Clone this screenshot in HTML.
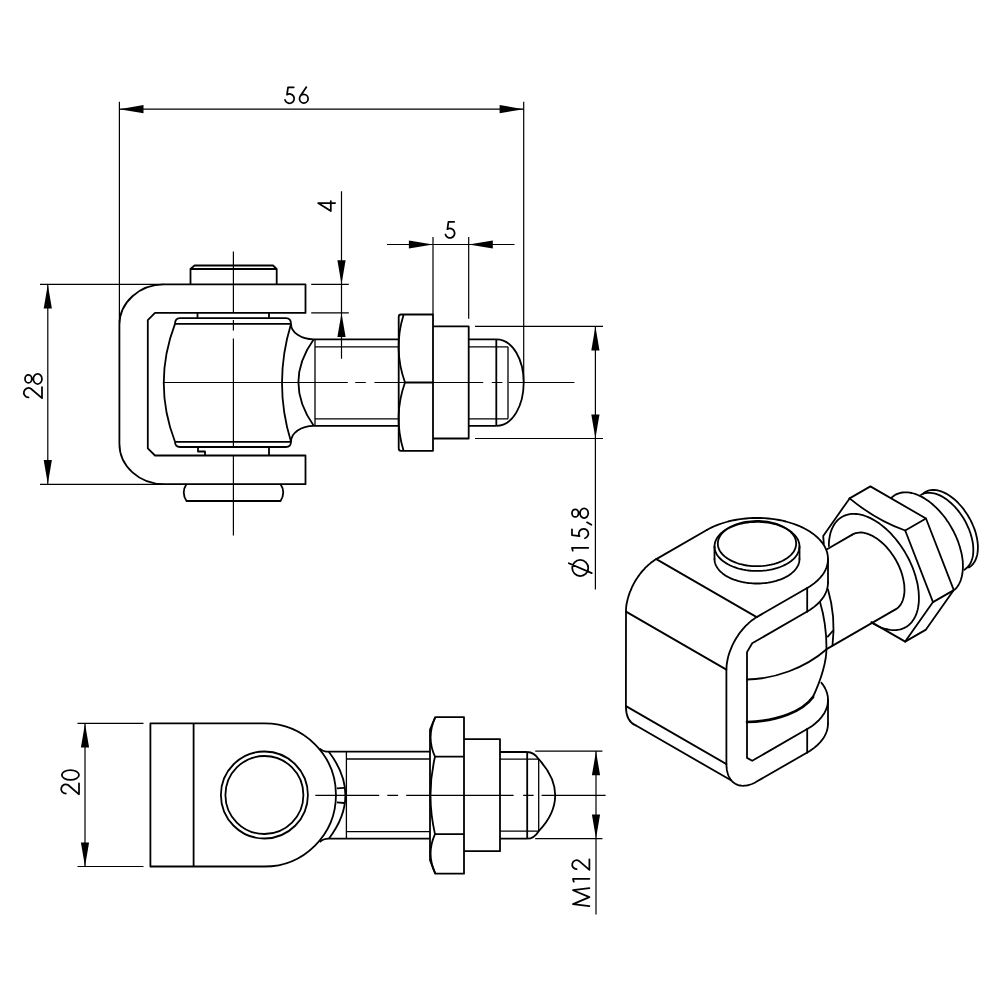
<!DOCTYPE html>
<html><head><meta charset="utf-8">
<style>
html,body{margin:0;padding:0;background:#fff;}
svg{display:block;}
text{font-family:"Liberation Sans",sans-serif;fill:#000;}
</style></head><body>
<svg width="1000" height="1000" viewBox="0 0 1000 1000">
<rect width="1000" height="1000" fill="#fff"/>
<!-- thin lines: dimensions, extension, center -->
<g fill="none" stroke="#000" stroke-width="1.2" id="thin">
  <!-- 56 -->
  <path d="M119.4 101.8V322 M523.7 101.8V382.5 M119.4 109.2H523.7"/>
  <!-- 28 -->
  <path d="M40 284.4H164 M40 484.45H164 M47.8 284.4V484"/>
  <!-- 4 -->
  <path d="M341.5 191.2V358.8 M311.2 284.4H348.8 M311.2 312.9H348.8"/>
  <!-- 5 -->
  <path d="M387 244.5H514.5 M433 237V314.5 M468.7 237V318.7"/>
  <!-- 15,8 -->
  <path d="M475 326.3H603 M475 438.5H603 M595.4 326.3V589.5"/>
  <!-- centerlines front -->
  <path d="M233.4 251.4V313 M233.4 320V330.5 M233.4 338.5V447 M233.4 455.5V535.5"/>
  <path d="M163.8 382.5H347.8 M355.2 382.5H365.8 M374.4 382.5H483.2 M491.8 382.5H502.4 M508.8 382.5H574.4"/>
  <!-- 20 -->
  <path d="M77.5 723.4H143.5 M77.5 866.5H143.5 M85 723.4V866.5"/>
  <!-- M12 -->
  <path d="M535.2 751.2H602.4 M535.2 838.6H602.4 M596 751.2V914.4"/>
  <path d="M315.3 795.3H379.2 M387.3 795.3H398.1 M406.2 795.3H513.6 M523.2 795.3H533.6 M541.6 795.3H605.6"/>
</g>
<!-- arrows -->
<g fill="#000" stroke="none">
  <path d="M119.4 109.2L143.5 105.1L143.5 113.3Z"/>
  <path d="M523.7 109.2L499.6 105.1L499.6 113.3Z"/>
  <path d="M47.8 284.4L43.7 308.5L51.9 308.5Z"/>
  <path d="M47.8 484L43.7 459.9L51.9 459.9Z"/>
  <path d="M341.5 284.4L337.4 260.3L345.6 260.3Z"/>
  <path d="M341.5 312.9L337.4 337L345.6 337Z"/>
  <path d="M433 244.5L408.9 240.4L408.9 248.6Z"/>
  <path d="M468.7 244.5L492.8 240.4L492.8 248.6Z"/>
  <path d="M595.4 326.3L591.3 350.4L599.5 350.4Z"/>
  <path d="M595.4 438.5L591.3 414.4L599.5 414.4Z"/>
  <path d="M85 723.4L80.9 747.5L89.1 747.5Z"/>
  <path d="M85 866.5L80.9 842.4L89.1 842.4Z"/>
  <path d="M596 751.2L591.9 775.3L600.1 775.3Z"/>
  <path d="M596 838.6L591.9 814.5L600.1 814.5Z"/>
</g>
<!-- text -->
<g fill="none" stroke="#000" stroke-width="1.75" stroke-linecap="round" stroke-linejoin="round">
  <path transform="translate(284.20 103.20) scale(0.935)" vector-effect="non-scaling-stroke" d="M10.2 -17H4.1L3.0 -9.1A5.0 5.0 0 1 1 0.9 -3.5"/>
  <path transform="translate(299.50 103.00) scale(0.935)" vector-effect="non-scaling-stroke" d="M7.4 -17L0.76 -7.14M9.2 -4.6A4.6 4.6 0 1 1 0 -4.6A4.6 4.6 0 1 1 9.2 -4.6"/>
  <path transform="translate(444.60 237.80) scale(0.940)" vector-effect="non-scaling-stroke" d="M10.2 -17H4.1L3.0 -9.1A5.0 5.0 0 1 1 0.9 -3.5"/>
  <path transform="translate(42.00 398.20) rotate(-90) scale(1.020)" vector-effect="non-scaling-stroke" d="M0.8 -13.2A4.6 4.6 0 1 1 9.3 -10.8L0 0H10.8"/>
  <path transform="translate(42.00 384.00) rotate(-90) scale(1.000)" vector-effect="non-scaling-stroke" d="M9.05 -13.6A4 3.4 0 1 1 1.05 -13.6A4 3.4 0 1 1 9.05 -13.6M10.1 -4.35A5.05 4.3 0 1 1 0 -4.35A5.05 4.3 0 1 1 10.1 -4.35"/>
  <path transform="translate(335.10 211.60) rotate(-90) scale(1.000)" vector-effect="non-scaling-stroke" d="M10.5 -4.3H0.5L8.6 -17V0"/>
  <path transform="translate(588.30 576.00) rotate(-90) scale(0.960)" vector-effect="non-scaling-stroke" d="M16.7 -8.4A8.35 8.35 0 1 1 0 -8.4A8.35 8.35 0 1 1 16.7 -8.4M2.95 3.6L13.25 -20.3"/>
  <path transform="translate(588.30 550.70) rotate(-90) scale(0.960)" vector-effect="non-scaling-stroke" d="M0 -16.2L3 -17V0"/>
  <path transform="translate(588.30 539.10) rotate(-90) scale(0.960)" vector-effect="non-scaling-stroke" d="M10.2 -17H4.1L3.0 -9.1A5.0 5.0 0 1 1 0.9 -3.5"/>
  <path transform="translate(588.30 518.00) rotate(-90) scale(0.960)" vector-effect="non-scaling-stroke" d="M9.05 -13.6A4 3.4 0 1 1 1.05 -13.6A4 3.4 0 1 1 9.05 -13.6M10.1 -4.35A5.05 4.3 0 1 1 0 -4.35A5.05 4.3 0 1 1 10.1 -4.35"/>
  <path transform="translate(79.00 794.30) rotate(-90) scale(1.000)" vector-effect="non-scaling-stroke" d="M0.8 -13.2A4.6 4.6 0 1 1 9.3 -10.8L0 0H10.8"/>
  <path transform="translate(79.00 779.90) rotate(-90) scale(1.010)" vector-effect="non-scaling-stroke" d="M9.8 -8.5A4.9 8.5 0 1 1 0 -8.5A4.9 8.5 0 1 1 9.8 -8.5"/>
  <path transform="translate(589.40 906.20) rotate(-90) scale(0.965)" vector-effect="non-scaling-stroke" d="M0 0L2.1 -17L9.4 0L16.6 -17L18.8 0"/>
  <path transform="translate(589.40 881.70) rotate(-90) scale(0.965)" vector-effect="non-scaling-stroke" d="M0 -16.2L3 -17V0"/>
  <path transform="translate(589.40 869.90) rotate(-90) scale(0.965)" vector-effect="non-scaling-stroke" d="M0.8 -13.2A4.6 4.6 0 1 1 9.3 -10.8L0 0H10.8"/>
  <path d="M587 522.3L591.4 524.75"/>
</g>

<!-- object lines -->
<g fill="none" stroke="#000" stroke-width="1.8" stroke-linejoin="round" id="obj">
  <!-- front view bracket -->
  <path d="M305.5 284.4H164A44.6 40.4 0 0 0 119.4 324.8V443.8A44.6 40.4 0 0 0 164 484.2H305.5V455.5H155L147.8 448.3V320.1L155 312.9H305.5Z"/>
  <!-- pin head top -->
  <path d="M190.5 284.4V269H276.7V284.4 M190.5 269L194.5 265.5H273L276.7 269"/>
  <!-- washer top -->
  <path d="M197.5 312.9V318.1 M269 312.9V318.1"/>
  <!-- barrel -->
  <path d="M180 318.1H286Q291 318.1 291 323.9H175Q175 318.1 180 318.1Z"/>
  <path d="M175 323.9Q152.5 383 175 441.8 M291 323.9Q273 383 291 441.8"/>
  <path d="M175 441.8H291Q291 447 286 447H180Q175 447 175 441.8"/>
  <!-- washer bottom -->
  <path d="M198 447V451.5H205V455.5 M269 447V455.5"/>
  <!-- pin bottom -->
  <path d="M186.5 484Q181 492.5 186.5 501H280.5Q286 492.5 280.5 484"/>
  <!-- fillets -->
  <path d="M291 323.9A22.75 15.4 0 0 0 313.75 339.3 M291 441.8A22.75 15.9 0 0 1 313.75 425.8"/>
  <!-- bolt -->
  <path d="M313.75 339.3H398.7 M313.75 425.8H398.7"/>
  <path stroke-width="1.3" d="M315 346.8H398.7 M315 418.8H398.7 M315 339.3V425.8"/>
  <path d="M313.75 339.3Q283 382.5 313.75 425.8"/>
  <!-- nut -->
  <path d="M433 314.5H401Q398.7 314.5 398.7 317V448.2Q398.7 450.8 401 450.8H433Z"/>
  <path d="M403.5 315Q393 349 405 382.5Q393 416 403.5 450.5 M405 382.5H433"/>
  <!-- washer -->
  <path d="M433 326.3H468.7V438.5H433"/>
  <!-- bolt end -->
  <path d="M468.7 339.3H496.3 M468.7 425.8H496.3 M496.3 339.3V425.8"/>
  <path stroke-width="1.3" d="M468.7 346.8H508 M468.7 418.8H508 M508 346.8V418.8"/>
  <path d="M496.3 339.3C513 339.3 523.7 360 523.7 382.5C523.7 405 513 425.8 496.3 425.8"/>

  <!-- bottom view eye -->
  <path d="M150.4 723.4H264.4A71.55 71.55 0 0 1 264.4 866.5H150.4Z M193.6 723.4V866.5"/>
  <circle cx="264.4" cy="795" r="43.5"/>
  <circle cx="264.4" cy="795" r="39"/>
  <!-- bottom view bolt -->
  <path d="M319.8 748.6Q323 751.7 328.8 751.7H430 M319.8 842Q323 838.7 328.8 838.7H430"/>
  <path d="M328.8 751.7Q362 795.3 328.8 838.7"/>
  <path stroke-width="1.3" d="M346.4 751.7V838.7 M346.4 759H430 M346.4 831.6H430"/>
  <path d="M336.9 788.3L344.1 787.8 M336.9 802.3L344.1 803"/>
  <path d="M464 717.1H435.3L430 729.7V860.2L435.3 873.7H464Z"/>
  <path d="M435.3 717.1Q426 737 435 756.7Q426 795.3 435 834.1Q426 854 435.3 873.7 M435 756.7H464 M435 834.1H464"/>
  <path d="M464 739.2H500V851.2H464"/>
  <path d="M500 752H527.2 M500 838.7H527.2 M527.2 752V838.7"/>
  <path stroke-width="1.3" d="M500 759.2H538.7 M500 831.2H538.7 M538.7 759.2V831.2"/>
  <path d="M527.2 752Q534 752 538.7 759.2Q555.2 777 555.2 795.3Q555.2 814 538.7 831.2Q534 838.7 527.2 838.7"/>
</g>
<!-- ISO -->
<g fill="none" stroke="#000" stroke-width="1.8" stroke-linejoin="round" stroke-linecap="round">
  <path d="M706.8 530.0L709.5 528.5L712.3 527.1L715.2 525.8L718.3 524.6L721.5 523.5L724.8 522.5L728.1 521.5L731.5 520.7L735.0 520.0L738.6 519.4L742.2 518.9L745.9 518.5L749.6 518.2L753.3 518.0L757.0 518.0L760.7 518.0L764.4 518.2L768.1 518.5L771.8 518.9L775.4 519.4L779.0 520.0L782.5 520.7L785.9 521.5L789.2 522.5L792.5 523.5L795.7 524.6L798.8 525.8L801.7 527.1L804.5 528.5L807.2 530.0L809.8 531.6L812.2 533.2L814.5 534.9L816.6 536.7L818.5 538.5L820.3 540.4L821.9 542.3L823.3 544.3L824.6 546.3L825.6 548.4L826.5 550.5L827.2 552.6L827.6 554.7L827.9 556.9L828.0 559.0L827.9 561.1L827.6 563.3L827.2 565.4L826.5 567.5L825.6 569.6L824.6 571.7L823.3 573.7L821.9 575.7L820.3 577.6L818.5 579.5L816.6 581.3L814.5 583.1L812.2 584.8L809.8 586.4L807.2 588.0"/>
  <path d="M706.8 530.0L656.3 559.1"/>
  <path d="M807.2 588.0L756.7 617.1"/>
  <path d="M656.3 559.1L756.7 617.1"/>
  <path d="M828.0 559.0L828.0 582.5"/>
  <path d="M828.0 582.5L827.9 584.6L827.6 586.8L827.2 588.9L826.5 591.0L825.6 593.1L824.6 595.2L823.3 597.2L821.9 599.2L820.3 601.1L818.5 603.0L816.6 604.8L814.5 606.6L812.2 608.3L809.8 609.9L807.2 611.5"/>
  <path d="M807.2 588.0L807.2 611.5"/>
  <path d="M807.2 611.5L752.2 643.3L747.0 652.1L747.0 757.9L752.2 760.8L807.2 729.0"/>
  <path d="M756.7 617.1L755.2 618.1L753.6 619.2L752.0 620.3L750.4 621.6L748.9 622.9L747.4 624.3L745.9 625.7L744.4 627.3L743.0 628.9L741.6 630.6L740.2 632.3L738.9 634.1L737.7 636.0L736.5 637.8L735.3 639.8L734.2 641.7L733.2 643.7L732.2 645.7L731.3 647.8L730.5 649.8L729.7 651.9L729.0 653.9L728.4 655.9L727.9 658.0L727.5 660.0L727.1 662.0L726.8 664.0L726.6 665.9L726.5 667.8L726.4 669.6L726.4 764.1L726.5 766.0L726.6 767.7L726.8 769.4L727.1 771.0L727.5 772.6L727.9 774.1L728.4 775.5L729.0 776.9L729.7 778.1L730.5 779.3L731.3 780.4L732.2 781.4L733.2 782.3L734.2 783.1L735.3 783.8L736.5 784.4L737.7 784.9L738.9 785.3L740.2 785.5L741.6 785.7L743.0 785.8L744.4 785.7L745.9 785.6L747.4 785.3L748.9 785.0L750.4 784.5L752.0 784.0L753.6 783.3L755.2 782.5L756.7 781.6L807.2 752.5"/>
  <path d="M656.3 559.1L654.7 560.1L653.1 561.2L651.5 562.3L650.0 563.6L648.4 564.9L646.9 566.3L645.4 567.7L644.0 569.3L642.5 570.9L641.1 572.6L639.8 574.3L638.5 576.1L637.2 578.0L636.0 579.8L634.8 581.8L633.8 583.7L632.7 585.7L631.8 587.7L630.9 589.8L630.0 591.8L629.3 593.9L628.6 595.9L628.0 597.9L627.5 600.0L627.0 602.0L626.6 604.0L626.3 606.0L626.1 607.9L626.0 609.8L626.0 611.6L625.9 706.2C625.9 716 628.5 722.5 636 725.5"/>
  <path d="M626.0 611.6L726.4 669.6"/>
  <path d="M626.0 706.1L726.4 764.1"/>
  <path d="M636.0 725.5L731.0 780.3"/>
  <path d="M807.2 729.0L807.2 752.5"/>
  <path d="M807.2 752.5L809.8 750.9L812.2 749.3L814.5 747.6L816.6 745.8L818.5 744.0L820.3 742.1L821.9 740.2L823.3 738.2L824.6 736.2L825.6 734.1L826.5 732.0L827.2 729.9L827.6 727.8L827.9 725.6L828.0 723.5"/>
  <path d="M828.0 700.0L828.0 723.5"/>
  <path d="M807.2 729.0L809.7 727.5L812.1 725.9L814.3 724.3L816.3 722.5L818.3 720.8L820.0 718.9L821.6 717.1L823.0 715.1L824.3 713.2L825.3 711.2L826.2 709.2L827.0 707.1L827.5 705.1L827.8 703.0L828.0 700.9L828.0 698.8L827.8 696.7L827.4 694.6L826.9 692.6L826.1 690.5L825.2 688.5L824.1 686.5L822.8 684.6L821.4 682.7"/>
  <path d="M714.5 559.0L714.6 560.3L714.7 561.6L715.0 562.8L715.4 564.1L715.9 565.4L716.6 566.6L717.3 567.8L718.2 569.0L719.1 570.1L720.2 571.3L721.4 572.4L722.6 573.4L724.0 574.4L725.4 575.4L726.9 576.4L728.6 577.2L730.3 578.1L732.0 578.9L733.9 579.6L735.8 580.2L737.7 580.9L739.7 581.4L741.8 581.9L743.9 582.3L746.0 582.7L748.2 583.0L750.4 583.2L752.6 583.4L754.8 583.5L757.0 583.5L759.2 583.5L761.4 583.4L763.6 583.2L765.8 583.0L768.0 582.7L770.1 582.3L772.2 581.9L774.3 581.4L776.3 580.9L778.2 580.2L780.1 579.6L782.0 578.9L783.7 578.1L785.4 577.2L787.1 576.4L788.6 575.4L790.0 574.4L791.4 573.4L792.6 572.4L793.8 571.3L794.9 570.1L795.8 569.0L796.7 567.8L797.4 566.6L798.1 565.4L798.6 564.1L799.0 562.8L799.3 561.6L799.4 560.3L799.5 559.0"/>
  <path d="M799.5 559.0L799.5 546.4"/>
  <path d="M714.5 559.0L714.5 546.4"/>
  <path d="M787.1 563.8L789.1 562.5L790.9 561.2L792.6 559.8L794.2 558.3L795.5 556.8L796.7 555.2L797.6 553.6L798.4 551.9L799.0 550.2L799.3 548.5L799.5 546.8L799.4 545.1L799.2 543.4L798.7 541.7L798.1 540.0L797.2 538.4L796.1 536.8L794.9 535.3L793.4 533.8L791.8 532.3L790.0 531.0L788.1 529.7L786.0 528.5L783.7 527.3L781.4 526.3L778.9 525.4L776.3 524.5L773.6 523.8L770.8 523.2L768.0 522.7L765.1 522.3L762.2 522.0L759.2 521.9L756.3 521.9L753.3 522.0L750.4 522.2L747.4 522.5L744.6 522.9L741.8 523.5L739.0 524.2L736.4 524.9L733.9 525.8L731.4 526.8L729.1 527.9L726.9 529.0L724.9 530.3L723.1 531.6L721.4 533.0L719.8 534.5L718.5 536.0L717.3 537.6L716.4 539.2L715.6 540.9L715.0 542.6L714.7 544.3L714.5 546.0L714.6 547.7L714.8 549.4L715.3 551.1L715.9 552.8L716.8 554.4L717.9 556.0L719.1 557.5L720.6 559.0L722.2 560.5L724.0 561.8L725.9 563.1L728.0 564.3L730.3 565.5L732.6 566.5L735.1 567.4L737.7 568.3L740.4 569.0L743.2 569.6L746.0 570.1L748.9 570.5L751.8 570.8L754.8 570.9L757.7 570.9L760.7 570.8L763.6 570.6L766.6 570.3L769.4 569.9L772.2 569.3L775.0 568.6L777.6 567.9L780.1 567.0L782.6 566.0L784.9 564.9L787.1 563.8Z"/>
  <path d="M784.7 559.6L786.6 558.4L788.3 557.2L789.9 555.9L791.3 554.6L792.5 553.2L793.6 551.7L794.5 550.2L795.2 548.7L795.7 547.1L796.0 545.6L796.2 544.0L796.1 542.4L795.9 540.8L795.5 539.3L794.9 537.7L794.1 536.2L793.1 534.8L791.9 533.3L790.6 531.9L789.1 530.6L787.5 529.4L785.7 528.2L783.7 527.1L781.7 526.0L779.5 525.1L777.2 524.2L774.8 523.4L772.3 522.8L769.8 522.2L767.1 521.7L764.5 521.4L761.8 521.1L759.1 521.0L756.3 521.0L753.6 521.1L750.9 521.3L748.2 521.6L745.5 522.0L743.0 522.5L740.4 523.1L738.0 523.8L735.7 524.6L733.4 525.5L731.3 526.5L729.3 527.6L727.4 528.8L725.7 530.0L724.1 531.3L722.7 532.6L721.5 534.0L720.4 535.5L719.5 537.0L718.8 538.5L718.3 540.1L718.0 541.6L717.8 543.2L717.9 544.8L718.1 546.4L718.5 547.9L719.1 549.5L719.9 551.0L720.9 552.4L722.1 553.9L723.4 555.3L724.9 556.6L726.5 557.8L728.3 559.0L730.3 560.1L732.3 561.2L734.5 562.1L736.8 563.0L739.2 563.8L741.7 564.4L744.2 565.0L746.9 565.5L749.5 565.8L752.2 566.1L754.9 566.2L757.7 566.2L760.4 566.1L763.1 565.9L765.8 565.6L768.5 565.2L771.0 564.7L773.6 564.1L776.0 563.4L778.3 562.6L780.6 561.7L782.7 560.7L784.7 559.6Z"/>
  <path d="M747 679.5C775 679 805 668 826.3 649.5"/>
  <path d="M747 722C778 721.5 803 711 813 697" stroke-width="2.7"/>
  <path d="M812.5 698C819 684 826.5 666 826.5 648C826.5 630 823 612 820 602"/>
  <path d="M828 589.5Q836 617 832.5 645.5"/>
  <path d="M827.8 636.6L832.7 631"/>
  <path d="M827.0 549.2L852.3 534.6"/>
  <path d="M826.2 649.4L895.5 609.4"/>
  <path d="M852.3 534.6L853.9 533.8L855.5 533.2L857.3 532.8L859.1 532.6L861.0 532.5L863.0 532.7L865.0 533.1L867.0 533.6L869.1 534.4L871.2 535.3L873.4 536.4L875.5 537.7L877.6 539.1L879.7 540.7L881.8 542.5L883.9 544.4L885.9 546.4L887.8 548.6L889.7 550.8L891.4 553.2L893.2 555.7L894.8 558.2L896.3 560.8L897.7 563.5L899.0 566.2L900.1 568.9L901.2 571.7L902.1 574.5L902.8 577.2L903.4 579.9L903.9 582.6L904.3 585.2L904.4 587.8L904.5 590.3L904.4 592.7L904.1 595.0L903.7 597.1L903.1 599.2L902.5 601.1L901.6 602.9L900.7 604.6L899.6 606.0L898.3 607.3L897.0 608.5L895.5 609.4"/>
  <path d="M849.6 498.4L870.4 486.4L926.0 518.5L953.8 590.1L926.0 629.6L905.2 641.6"/>
  <path d="M905.2 530.5L926.0 518.5"/>
  <path d="M933.0 602.1L953.8 590.1"/>
  <path d="M849.6 498.4Q876.4 520.4 905.2 530.5"/>
  <path d="M905.2 530.5L933.0 602.1L905.2 641.6"/>
  <path d="M905.2 641.6L871.3 622.1"/>
  <path d="M849.6 498.4L823.2 535.9L823.8 544.0"/>
  <path d="M828.9 546.0L828.9 543.3L829.1 540.6L829.4 538.1L829.9 535.7L830.4 533.3L831.1 531.1L831.9 528.9L832.9 526.9L833.9 525.0L835.0 523.3L836.3 521.7L837.7 520.2L839.1 518.9L840.7 517.7L842.3 516.7L844.1 515.8L845.9 515.1L847.8 514.6L849.8 514.2L851.9 513.9L854.0 513.9L856.1 514.0L858.3 514.2L860.6 514.6L862.9 515.2L865.2 516.0L867.6 516.9L869.9 517.9L872.3 519.1L874.7 520.5L877.1 522.0L879.5 523.6L881.8 525.4L884.1 527.3L886.5 529.3L888.7 531.4L891.0 533.7L893.1 536.1L895.3 538.5L897.3 541.1L899.3 543.8L901.3 546.5L903.1 549.3L904.9 552.1L906.6 555.1L908.2 558.0L909.7 561.0L911.1 564.1L912.4 567.1L913.6 570.2L914.6 573.3L915.6 576.4L916.4 579.4L917.2 582.5L917.8 585.5L918.2 588.4L918.6 591.4L918.8 594.2L918.9 597.1L918.9 599.8L918.8 602.5L918.5 605.0L918.1 607.5L917.6 609.9L916.9 612.2L916.2 614.4L915.3 616.4L914.3 618.3L913.2 620.1L912.0 621.8L910.6 623.3L909.2 624.7L907.7 625.9L906.1 627.0L904.3 627.9L902.5 628.7L900.7 629.3L898.7 629.7L896.7 630.0L894.6 630.1L892.4 630.1L890.2 629.9L888.0 629.5L885.7 629.0L883.4 628.3L881.1 627.5L878.7 626.5L876.3 625.3L873.9 624.0L871.6 622.6"/>
  <path d="M891.6 497.6L892.9 496.5L894.3 495.5L895.7 494.6L897.3 493.9L898.9 493.3L900.5 492.8L902.3 492.5L904.0 492.3L905.9 492.3L907.8 492.4L909.7 492.6L911.7 493.0L913.7 493.5L915.7 494.2L917.8 495.0L919.8 495.9L921.9 496.9L924.0 498.1L926.0 499.4L928.1 500.8L930.2 502.4L932.2 504.0L934.2 505.8L936.2 507.7L938.1 509.6L940.0 511.7L941.9 513.8L943.7 516.0L945.5 518.3L947.1 520.7L948.8 523.1L950.3 525.6L951.8 528.2L953.2 530.7L954.5 533.3L955.8 536.0L956.9 538.6L958.0 541.3L958.9 544.0L959.8 546.7L960.5 549.4L961.2 552.0L961.8 554.6L962.2 557.2L962.6 559.8L962.8 562.3L962.9 564.8L962.9 567.2L962.8 569.5L962.6 571.8L962.3 574.0L961.9 576.1L961.4 578.1L960.8 580.1L960.1 581.9L959.2 583.6L958.3 585.2L957.3 586.7L956.2 588.1L955.0 589.4"/>
  <path d="M921.1 494.8L922.5 494.1L924.0 493.5L925.6 493.1L927.2 492.9L928.9 492.8L930.6 492.8L932.4 493.1L934.2 493.4L936.1 493.9L938.0 494.6L939.9 495.4L941.8 496.4L943.7 497.5L945.6 498.8L947.5 500.1L949.4 501.7L951.3 503.3L953.1 505.0L954.9 506.9L956.6 508.8L958.3 510.9L959.9 513.0L961.5 515.2L963.0 517.4L964.4 519.8L965.7 522.1L966.9 524.6L968.0 527.0L969.1 529.5L970.0 532.0L970.8 534.4L971.5 536.9L972.1 539.4L972.6 541.8L973.0 544.2L973.2 546.5L973.3 548.8L973.3 551.0L973.2 553.1L973.0 555.2L972.6 557.2L972.1 559.0L971.5 560.8L970.8 562.5L970.0 564.0L969.1 565.4L968.0 566.7L966.9 567.8L965.7 568.8L964.4 569.7"/>
  <path d="M923.5 493.2L924.8 492.3L926.2 491.5L927.7 490.9L929.3 490.4L931.0 490.1L932.7 490.0L934.5 490.0L936.3 490.2L938.2 490.5L940.2 491.1L942.1 491.7L944.1 492.6L946.1 493.6L948.1 494.7L950.0 496.0L952.0 497.5L954.0 499.0L955.9 500.7L957.8 502.5L959.6 504.5L961.4 506.5L963.2 508.6L964.8 510.9L966.4 513.2L967.9 515.5L969.3 518.0L970.7 520.4L971.9 523.0L973.0 525.5L974.1 528.1L975.0 530.6L975.8 533.2L976.4 535.7L977.0 538.3L977.4 540.8L977.7 543.2L977.9 545.6L977.9 547.9L977.8 550.2L977.6 552.3L977.3 554.4L976.8 556.4L976.2 558.2L975.5 560.0L974.7 561.6L973.7 563.0L972.7 564.4L971.5 565.6L970.3 566.6L968.9 567.5"/>
</g>
</svg>
</body></html>
